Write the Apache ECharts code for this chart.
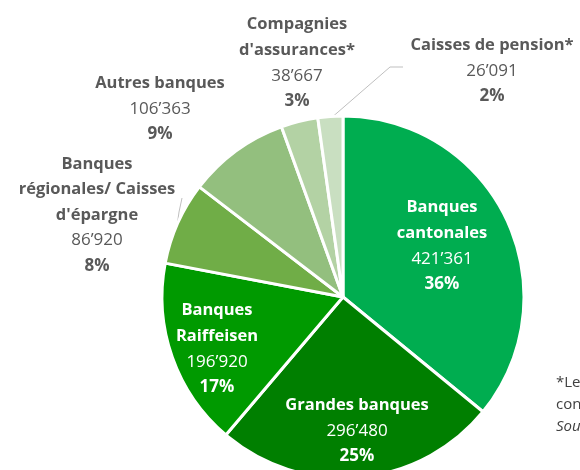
<!DOCTYPE html>
<html>
<head>
<meta charset="utf-8">
<script src="https://cdn.jsdelivr.net/npm/echarts@6/dist/echarts.min.js"></script>
<style>
  html, body { margin: 0; padding: 0; background: #fff; }
  #main { width: 580px; height: 470px; }
</style>
</head>
<body>
<div id="main"></div>
<script>
// données (ordre horaire depuis le haut)
var names = ['Banques\ncantonales', 'Grandes banques', 'Banques\nRaiffeisen',
  'Banques\nrégionales/ Caisses\nd\'épargne', 'Autres banques',
  'Compagnies\nd\'assurances*', 'Caisses de pension*'];
var values = [421361, 296480, 196920, 86920, 106363, 38667, 26091];
var pctLabels = ['36%', '25%', '17%', '8%', '9%', '3%', '2%'];
var colors = ['#00AD50', '#007F00', '#009A00', '#70AD47', '#93BF7E', '#B3D2A4', '#C9DFC1'];
var inside = [true, true, true, false, false, false, false];

// position des étiquettes (centre)
var labelPos = [[442, 246], [357, 431], [217, 349], [97, 215], [160, 109], [297, 63], [492, 71]];

function fmt(v) {
  return String(v).replace(/\B(?=(\d{3})+(?!\d))/g, '\u2019');
}

var myChart = echarts.init(document.getElementById('main'));

var data = [];
for (let i = 0; i < values.length; i++) {
  var txtColor = inside[i] ? '#ffffff' : '#595959';
  data.push({
    name: names[i],
    value: values[i],
    itemStyle: { color: colors[i] },
    label: {
      position: inside[i] ? 'inside' : 'outside',
      rich: {
        n: { fontFamily: 'Open Sans', fontWeight: 'bold', fontSize: 16.5, color: txtColor, lineHeight: 25.5 },
        v: { fontFamily: 'Open Sans', fontSize: 17, color: txtColor, lineHeight: 25.5 },
        p: { fontFamily: 'Open Sans', fontWeight: 'bold', fontSize: 17, color: txtColor, lineHeight: 25.5 }
      }
    },
    labelLine: { show: i == 3 || i == 6 }
  });
}

myChart.setOption({
  animation: false,
  series: [{
    type: 'pie',
    center: [343, 297],
    radius: 181,
    startAngle: 90,
    clockwise: true,
    itemStyle: { borderColor: '#ffffff', borderWidth: 3 },
    label: {
      show: true,
      overflow: 'none',
      formatter: function (p) {
        var i = p.dataIndex;
        var lines = names[i].split('\n').map(function (s) { return '{n|' + s + '}'; });
        lines.push('{v|' + fmt(values[i]) + '}');
        lines.push('{p|' + pctLabels[i] + '}');
        return lines.join('\n');
      }
    },
    labelLine: {
      lineStyle: { color: '#BFBFBF', width: 1 }
    },
    labelLayout: function (params) {
      var i = params.dataIndex;
      var res = { x: labelPos[i][0], y: labelPos[i][1], align: 'center', verticalAlign: 'middle' };
      if (i == 6) res.labelLinePoints = [[330, 119], [390, 67], [403, 67]];
      if (i == 3) res.labelLinePoints = [[177, 226], [179, 212], [182, 198]];
      return res;
    },
    data: data
  }],
  graphic: [
    { type: 'text', left: 556, top: 375, style: { text: '*Les données des compagnies', font: '15px "Open Sans"', fill: '#404040' } },
    { type: 'text', left: 556, top: 397, style: { text: 'concernent l\'année précédente', font: '15px "Open Sans"', fill: '#404040' } },
    { type: 'text', left: 556, top: 419, style: { text: 'Source: BNS', font: 'italic 15px "Open Sans"', fill: '#404040' } }
  ]
});
</script>
</body>
</html>
